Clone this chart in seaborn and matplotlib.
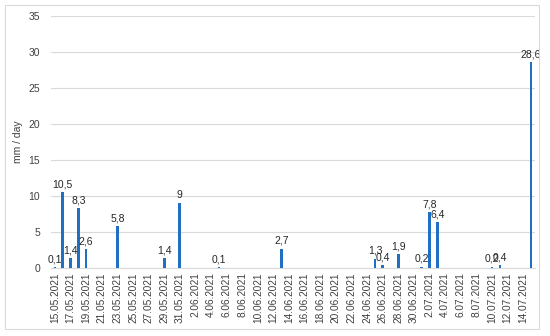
import matplotlib
matplotlib.use("Agg")
import matplotlib.pyplot as plt
from matplotlib.patches import Rectangle
import seaborn as sns
import pandas as pd

# Days from 15.05.2021 to 15.07.2021
dates = pd.date_range("2021-05-15", "2021-07-15", freq="D")
labels = [f"{d.day}.{d.month:02d}.{d.year}" for d in dates]

precip = [
    0.1, 10.5, 1.4, 8.3, 2.6, 0, 0, 0, 5.8, 0,      # 15.05 - 24.05
    0, 0, 0, 0, 1.4, 0, 9, 0, 0, 0,                 # 25.05 - 3.06
    0, 0.1, 0, 0, 0, 0, 0, 0, 0, 2.7,               # 4.06 - 13.06
    0, 0, 0, 0, 0, 0, 0, 0, 0, 0,                   # 14.06 - 23.06
    0, 1.3, 0.4, 0, 1.9, 0, 0, 0.2, 7.8, 6.4,       # 24.06 - 3.07
    0, 0, 0, 0, 0, 0, 0.2, 0.4, 0, 0,               # 4.07 - 13.07
    0, 28.6,                                        # 14.07 - 15.07
]

y_ticks = [0, 5, 10, 15, 20, 25, 30, 35]

sns.set_theme(style="white")
plt.rcParams["font.family"] = ["Liberation Sans", "DejaVu Sans"]

df = pd.DataFrame({"date": labels, "mm": precip})

fig = plt.figure(figsize=(5.5, 3.36), dpi=100)
ax = fig.add_axes([51 / 550, 1 - 268 / 336, (535 - 51) / 550, (268 - 16) / 336])

bar_color = "#1f6fc3"
sns.barplot(data=df, x="date", y="mm", color=bar_color, width=0.34,
            saturation=1, ax=ax, zorder=3, linewidth=0)
for p in ax.containers[0]:
    p.set_antialiased(False)

bar_texts = [("%g" % v).replace(".", ",") if v > 0 else "" for v in precip]
ax.bar_label(ax.containers[0], labels=bar_texts, padding=2, fontsize=7.5,
             color="#262626")

ax.set_ylim(0, 35)
ax.set_yticks(y_ticks)
ax.set_xlim(-0.5, len(labels) - 0.5)
ax.set_xticks(range(0, len(labels), 2))
ax.set_xticklabels(labels[::2], rotation=90, fontsize=7.3, color="#404040")
ax.tick_params(axis="y", labelsize=7.5, labelcolor="#404040", length=0, pad=8)
ax.tick_params(axis="x", length=0, pad=3)
ax.yaxis.grid(True, color="#d9d9d9", linewidth=0.8, zorder=0)
ax.xaxis.grid(False)
for s in ["top", "right", "left"]:
    ax.spines[s].set_visible(False)
ax.spines["bottom"].set_color("#d9d9d9")
ax.spines["bottom"].set_linewidth(0.8)
ax.set_xlabel("")
ax.set_ylabel("mm / day", fontsize=7.5, color="#404040", labelpad=4)

fig.patches.append(Rectangle((5 / 550, 1 - 329 / 336), 534 / 550, 324 / 336,
                             transform=fig.transFigure, fill=False,
                             edgecolor="#d9d9d9", linewidth=0.8))

fig.savefig("out.png", dpi=100)
